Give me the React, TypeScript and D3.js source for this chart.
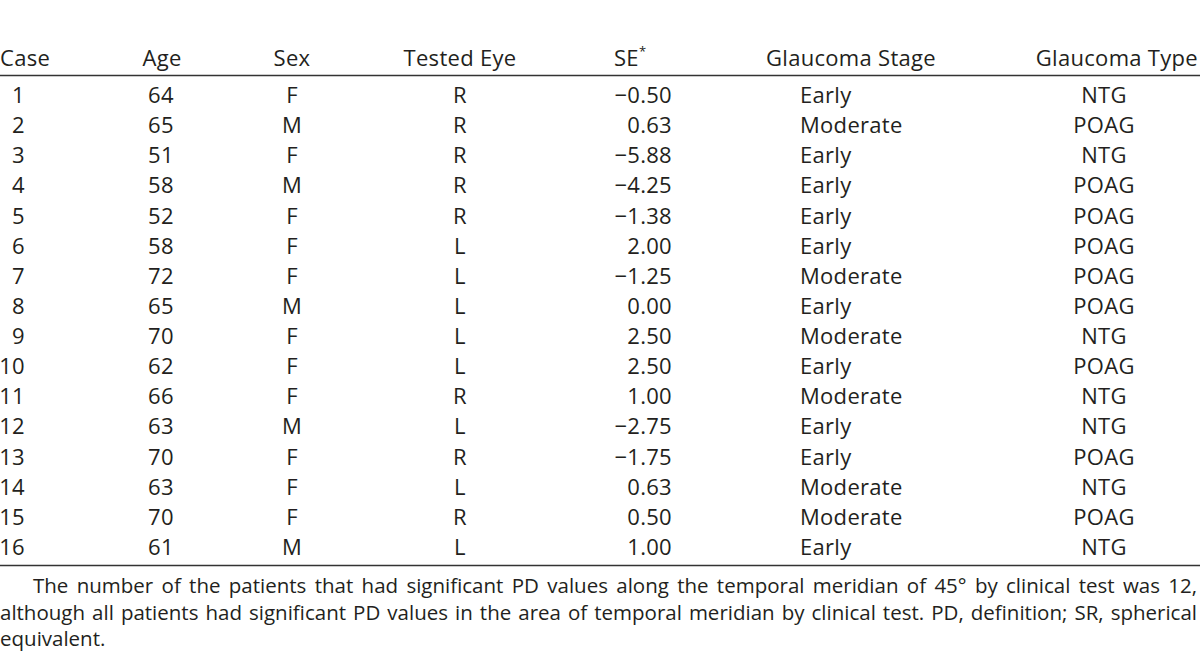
import React, { useRef, useEffect } from "react";
import * as d3 from "d3";

const headers = ["Case", "Age", "Sex", "Tested Eye", "SE", "Glaucoma Stage", "Glaucoma Type"];
const cases = ["1", "2", "3", "4", "5", "6", "7", "8", "9", "10", "11", "12", "13", "14", "15", "16"];
const ages = ["64", "65", "51", "58", "52", "58", "72", "65", "70", "62", "66", "63", "70", "63", "70", "61"];
const sexes = ["F", "M", "F", "M", "F", "F", "F", "M", "F", "F", "F", "M", "F", "F", "F", "M"];
const testedEyes = ["R", "R", "R", "R", "R", "L", "L", "L", "L", "L", "R", "L", "R", "L", "R", "L"];
const seValues = ["\u22120.50", "0.63", "\u22125.88", "\u22124.25", "\u22121.38", "2.00", "\u22121.25", "0.00", "2.50", "2.50", "1.00", "\u22122.75", "\u22121.75", "0.63", "0.50", "1.00"];
const stages = ["Early", "Moderate", "Early", "Early", "Early", "Early", "Moderate", "Early", "Moderate", "Early", "Moderate", "Early", "Early", "Moderate", "Moderate", "Early"];
const types = ["NTG", "POAG", "NTG", "POAG", "POAG", "POAG", "POAG", "POAG", "NTG", "POAG", "NTG", "NTG", "POAG", "NTG", "POAG", "NTG"];
const footnoteLines = [
  "The number of the patients that had significant PD values along the temporal meridian of 45\u00b0 by clinical test was 12,",
  "although all patients had significant PD values in the area of temporal meridian by clinical test. PD, definition; SR, spherical",
  "equivalent.",
];

const WIDTH = 1200;
const HEIGHT = 669;
const FONT = "'Open Sans', 'Noto Sans', sans-serif";
const INK = "#231f20";

// column placement: header x/anchor, cell x/anchor
const columns = [
  { hx: 0, ha: "start", cx: 25, ca: "end", values: cases },
  { hx: 162, ha: "middle", cx: 161, ca: "middle", values: ages },
  { hx: 292, ha: "middle", cx: 292, ca: "middle", values: sexes },
  { hx: 460, ha: "middle", cx: 460, ca: "middle", values: testedEyes },
  { hx: 614, ha: "start", cx: 672, ca: "end", values: seValues },
  { hx: 851, ha: "middle", cx: 800, ca: "start", values: stages },
  { hx: 1198, ha: "end", cx: 1104, ca: "middle", values: types },
];

export default function App() {
  const svgRef = useRef<SVGSVGElement>(null);

  useEffect(() => {
    document.body.style.margin = "0";
    const svg = d3.select(svgRef.current);
    svg.selectAll("*").remove();

    const y = d3.scaleLinear().domain([0, cases.length - 1]).range([103, 555]);
    const g = svg.append("g")
      .style("font-family", FONT)
      .style("font-size", "22px")
      .style("letter-spacing", "0.3px")
      .style("fill", INK);

    // header row
    columns.forEach((col, i) => {
      const t = g.append("text")
        .attr("x", col.hx)
        .attr("y", 65.5)
        .attr("text-anchor", col.ha)
        .text(headers[i]);
      if (headers[i] === "SE") {
        t.append("tspan").attr("dy", -10).style("font-size", "13px").text("*");
      }
    });

    // rules
    [75.5, 565.5].forEach((ly) => {
      g.append("line")
        .attr("x1", 0).attr("x2", WIDTH)
        .attr("y1", ly).attr("y2", ly)
        .style("stroke", "#333")
        .style("stroke-width", 1.6);
    });

    // body cells
    columns.forEach((col) => {
      g.selectAll(null)
        .data(col.values)
        .enter()
        .append("text")
        .attr("x", col.cx)
        .attr("y", (d, i) => y(i))
        .attr("text-anchor", col.ca)
        .text((d) => d);
    });

    // footnote, justified word by word
    const lineY = [593, 620, 646];
    const foot = g.append("g").style("font-size", "20.5px").style("letter-spacing", "0px");
    footnoteLines.forEach((line, li) => {
      const left = li === 0 ? 33 : 0;
      const right = 1197;
      const words = line.split(" ");
      const nodes = words.map((w) => foot.append("text").attr("y", lineY[li]).text(w));
      const widths = nodes.map((n) => (n.node() as SVGTextElement).getComputedTextLength());
      const total = d3.sum(widths);
      const justify = li < footnoteLines.length - 1;
      const gap = justify ? Math.max(4, (right - left - total) / (words.length - 1)) : 6;
      let x = left;
      nodes.forEach((n, i) => {
        n.attr("x", x);
        x += widths[i] + gap;
      });
    });
  }, []);

  return <svg ref={svgRef} width={WIDTH} height={HEIGHT} style={{ display: "block", background: "#fff" }} />;
}
